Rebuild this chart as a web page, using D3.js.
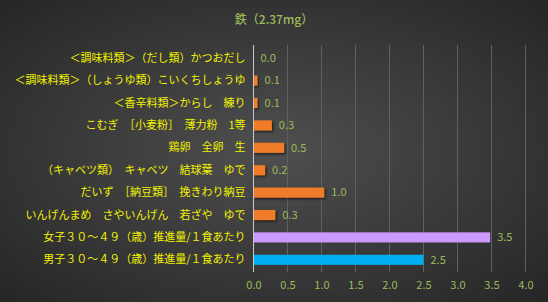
<!DOCTYPE html>
<html><head><meta charset="utf-8">
<script src="https://cdn.jsdelivr.net/npm/d3@7"></script>
<style>html,body{margin:0;padding:0;background:#333;}svg{display:block;}</style>
</head><body>
<script>
const categories = [
  "＜調味料類＞（だし類）かつおだし",
  "＜調味料類＞（しょうゆ類）こいくちしょうゆ",
  "＜香辛料類＞からし　練り",
  "こむぎ　［小麦粉］　薄力粉　1等",
  "鶏卵　全卵　生",
  "（キャベツ類）　キャベツ　結球葉　ゆで",
  "だいず　［納豆類］　挽きわり納豆",
  "いんげんまめ　さやいんげん　若ざや　ゆで",
  "女子３０～４９（歳）推進量/１食あたり",
  "男子３０～４９（歳）推進量/１食あたり"
];
const values = [0.0, 0.06, 0.06, 0.27, 0.45, 0.17, 1.04, 0.32, 3.48, 2.5];
const colors = ["#f07b2a","#f07b2a","#f07b2a","#f07b2a","#f07b2a","#f07b2a","#f07b2a","#f07b2a","#cc99ff","#00b0f0"];
const tickValues = [0, 0.5, 1.0, 1.5, 2.0, 2.5, 3.0, 3.5, 4.0];
const title = "鉄（2.37mg）";

const W = 548, H = 302;
const svg = d3.select("body").append("svg").attr("width", W).attr("height", H);
const defs = svg.append("defs");
const rg = defs.append("radialGradient").attr("id","bg").attr("cx","50%").attr("cy","50%").attr("r","75%");
rg.append("stop").attr("offset","0%").attr("stop-color","#4f4f4f");
rg.append("stop").attr("offset","100%").attr("stop-color","#232323");
const f = defs.append("filter").attr("id","sh").attr("x","-10%").attr("y","-30%").attr("width","130%").attr("height","180%");
f.append("feDropShadow").attr("dx",1.5).attr("dy",1.5).attr("stdDeviation",1).attr("flood-color","#000").attr("flood-opacity",0.6);

svg.append("rect").attr("width",W).attr("height",H).attr("fill","url(#bg)");

const font = "'Noto Sans CJK JP', sans-serif";
const x = d3.scaleLinear().domain([0,4]).range([253.5, 525.5]);
const y = d3.scaleBand().domain(categories).range([47, 271]).paddingInner(0.55).paddingOuter(0.275);

// gridlines
svg.append("g").selectAll("line").data(tickValues.slice(1)).join("line")
  .attr("x1", d=>x(d)).attr("x2", d=>x(d)).attr("y1", 45).attr("y2", 272)
  .attr("stroke", "#606060").attr("stroke-width", 1);

// title
svg.append("text").attr("x", 274).attr("y", 24).attr("text-anchor","middle")
  .attr("fill","#9bbb59").attr("font-family", font).attr("font-size", 12).attr("font-weight", 500).text(title);

// bars
svg.append("g").selectAll("rect").data(values).join("rect")
  .attr("x", x(0)).attr("y", (d,i)=>y(categories[i]))
  .attr("width", d=>x(d)-x(0)).attr("height", y.bandwidth())
  .attr("fill", (d,i)=>colors[i])
  .attr("filter", (d,i)=> i<8 ? "url(#sh)" : null);

// value labels
svg.append("g").selectAll("text").data(values).join("text")
  .attr("x", d=>x(d)+7).attr("y", (d,i)=>y(categories[i])+y.bandwidth()/2)
  .attr("dy","0.35em").attr("fill","#9bbb59").attr("font-family", font).attr("font-size", 11)
  .text(d=>d3.format(".1f")(d));

// y axis
const yAxis = svg.append("g").attr("transform", `translate(${x(0)},0)`)
  .call(d3.axisLeft(y).tickSize(0).tickPadding(8));
yAxis.select(".domain").attr("stroke","#c8c8c8").attr("d", "M0,45V272");
yAxis.selectAll("text").attr("fill","#f2f200").attr("font-family", font).attr("font-size", 11);

// x axis
const xAxis = svg.append("g").attr("transform", "translate(0,272)")
  .call(d3.axisBottom(x).tickValues(tickValues).tickFormat(d3.format(".1f")).tickSize(0).tickPadding(9));
xAxis.select(".domain").remove();
xAxis.selectAll("text").attr("fill","#9bbb59").attr("font-family", font).attr("font-size", 11);
</script>
</body></html>
